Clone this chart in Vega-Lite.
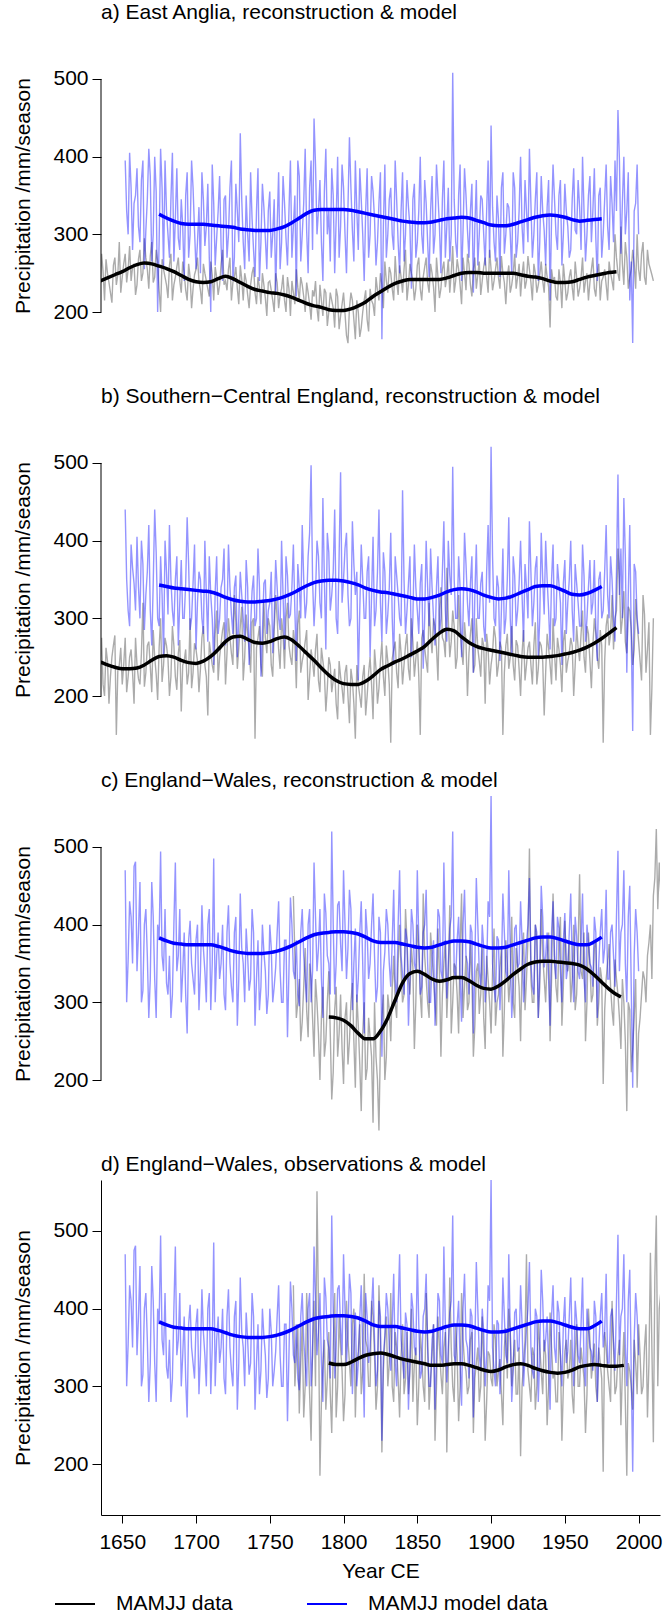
{
"$schema":"https://vega.github.io/schema/vega-lite/v6.json",
"padding":{"top":2,"left":12,"right":2,"bottom":0},
"spacing":23,
"config":{
"font":"Liberation Sans",
"view":{"stroke":null},
"axis":{"grid":false,"labelFontSize":21,"titleFontSize":21,"titleFontWeight":"normal","labelColor":"#000","titleColor":"#000","tickColor":"#000","domainColor":"#000","labelFont":"Liberation Sans","titleFont":"Liberation Sans","tickWidth":1,"domainWidth":1},
"axisY":{"domain":false,"tickSize":9,"labelPadding":4,"titlePadding":19,"labelAngle":0},
"axisX":{"tickSize":8,"labelPadding":8,"titlePadding":8,"labelFlush":false},
"title":{"fontSize":21,"fontWeight":"normal","anchor":"start","frame":"group","baseline":"alphabetic","offset":5,"color":"#000","font":"Liberation Sans"},
"legend":{"orient":"none","legendX":-47,"legendY":1555,"direction":"horizontal","symbolType":"stroke","symbolSize":1600,"symbolStrokeWidth":2,"labelFontSize":21,"labelFont":"Liberation Sans","labelColor":"#000","labelOffset":20,"labelLimit":400,"columnPadding":70}
},
"datasets":{
"ann":[
{"t":1630,"ag":255,"bg":250},{"t":1632,"ag":230,"bg":290},{"t":1634,"ag":270,"bg":215},{"t":1636,"ag":275,"bg":275},{"t":1638,"ag":215,"bg":200},{"t":1640,"ag":250,"bg":245},{"t":1642,"ag":225,"bg":225},{"t":1644,"ag":260,"bg":265},{"t":1646,"ag":235,"bg":150},{"t":1648,"ag":290,"bg":240},{"t":1650,"ag":245,"bg":215},
{"t":1652,"ag":275,"am":395,"bg":275,"bm":440,"em":470},
{"t":1654,"ag":255,"am":300,"bg":225,"bm":310,"em":355},
{"t":1656,"ag":240,"am":360,"bg":260,"bm":395,"em":410},
{"t":1658,"ag":262,"am":340,"bg":190,"bm":345,"em":475},
{"t":1660,"ag":235,"am":385,"bg":240,"bm":405,"em":340},
{"t":1662,"ag":280,"am":290,"bg":215,"bm":300,"em":455},
{"t":1664,"ag":250,"am":395,"bg":320,"bm":370,"em":315},
{"t":1666,"ag":270,"am":305,"bg":230,"bm":330,"em":420},
{"t":1668,"ag":230,"am":410,"bg":270,"bm":420,"em":280},
{"t":1670,"ag":290,"am":265,"bg":205,"bm":265,"em":455},
{"t":1672,"ag":245,"am":400,"bg":250,"bm":440,"em":330},
{"t":1674,"ag":265,"am":200,"bg":195,"bm":300,"em":400},
{"t":1676,"ag":200,"am":410,"bg":300,"bm":380,"em":494},
{"t":1678,"ag":255,"am":255,"bg":240,"bm":250,"em":340},
{"t":1680,"ag":235,"am":330,"bg":265,"bm":360,"em":325},
{"t":1682,"ag":260,"am":270,"bg":200,"bm":420,"em":360},
{"t":1684,"ag":215,"am":405,"bg":290,"bm":310,"em":310},
{"t":1686,"ag":245,"am":320,"bg":225,"bm":350,"em":480},
{"t":1688,"ag":270,"am":295,"bg":255,"bm":265,"em":360},
{"t":1690,"ag":225,"am":345,"bg":180,"bm":375,"em":300},
{"t":1692,"ag":250,"am":240,"bg":245,"bm":300,"em":390},
{"t":1694,"ag":215,"am":380,"bg":215,"bm":430,"em":260},
{"t":1696,"ag":245,"am":300,"bg":300,"bm":285,"em":405},
{"t":1698,"ag":230,"am":360,"bg":230,"bm":345,"em":330},
{"t":1700,"ag":255,"am":255,"bg":260,"bm":260,"em":380},
{"t":1702,"ag":240,"am":335,"bg":205,"bm":360,"em":290},
{"t":1704,"ag":210,"am":380,"bg":275,"bm":300,"em":425},
{"t":1706,"ag":250,"am":285,"bg":240,"bm":400,"em":340},
{"t":1708,"ag":230,"am":365,"bg":175,"bm":270,"em":400},
{"t":1710,"ag":265,"am":200,"bg":255,"bm":330,"em":290},
{"t":1712,"ag":215,"am":340,"bg":230,"bm":240,"em":485},
{"t":1714,"ag":245,"am":295,"bg":310,"bm":380,"em":360},
{"t":1716,"ag":235,"am":375,"bg":250,"bm":300,"em":330},
{"t":1718,"ag":280,"am":240,"bg":285,"bm":350,"em":400},
{"t":1720,"ag":240,"am":350,"bg":215,"bm":265,"em":290},
{"t":1722,"ag":255,"am":300,"bg":300,"bm":395,"em":425},
{"t":1724,"ag":215,"am":395,"bg":255,"bm":305,"em":320},
{"t":1726,"ag":245,"am":270,"bg":330,"bm":340,"em":390},
{"t":1728,"ag":230,"am":330,"bg":235,"bm":250,"em":270},
{"t":1730,"ag":260,"am":430,"bg":290,"bm":360,"em":440},
{"t":1732,"ag":215,"am":290,"bg":220,"bm":300,"em":350},
{"t":1734,"ag":240,"am":350,"bg":305,"bm":375,"em":395},
{"t":1736,"ag":205,"am":265,"bg":260,"bm":240,"em":315},
{"t":1738,"ag":250,"am":320,"bg":295,"bm":335,"em":420},
{"t":1740,"ag":225,"am":245,"bg":145,"bm":290,"em":270},
{"t":1742,"ag":245,"am":385,"bg":275,"bm":390,"em":380},
{"t":1744,"ag":210,"am":290,"bg":240,"bm":225,"em":320},
{"t":1746,"ag":235,"am":335,"bg":320,"bm":345,"em":365},
{"t":1748,"ag":195,"am":255,"bg":255,"bm":280,"em":285},
{"t":1750,"ag":240,"am":355,"bg":290,"bm":320,"em":400},
{"t":1752,"ag":215,"am":300,"bg":225,"bm":255,"em":300},
{"t":1754,"ag":250,"am":225,"bg":330,"bm":375,"em":345},
{"t":1756,"ag":205,"am":380,"bg":260,"bm":300,"em":430},
{"t":1758,"ag":230,"am":290,"bg":300,"bm":400,"em":300},
{"t":1760,"ag":215,"am":340,"bg":235,"bm":260,"em":380},
{"t":1762,"ag":245,"am":260,"bg":320,"bm":355,"em":255},
{"t":1764,"ag":195,"am":395,"bg":250,"bm":305,"em":435},
{"t":1766,"ag":225,"am":310,"bg":285,"bm":395,"cg":437,"em":340,"dg":430},
{"t":1768,"ag":255,"am":220,"bg":210,"bm":245,"cg":280,"em":380,"dg":340},
{"t":1770,"ag":215,"am":375,"bg":310,"bm":340,"cg":330,"em":295,"dg":265},
{"t":1772,"ag":235,"am":300,"bg":245,"bm":420,"cg":275,"em":420,"dg":380},
{"t":1774,"ag":200,"am":410,"bg":270,"bm":300,"cg":370,"em":330,"dg":300},
{"t":1776,"ag":225,"am":250,"bg":195,"bm":380,"cg":255,"em":400,"dg":360},
{"t":1778,"ag":190,"am":395,"bg":260,"bm":497,"cg":330,"em":300,"dg":230},
{"t":1780,"ag":220,"am":449,"bg":225,"bm":290,"cg":230,"em":480,"dg":410},
{"t":1782,"ag":205,"am":300,"bg":280,"bm":400,"cg":300,"em":340,"dg":551},
{"t":1784,"ag":235,"am":370,"bg":205,"bm":320,"cg":200,"em":420,"dg":185},
{"t":1786,"ag":195,"am":240,"bg":245,"bm":455,"cg":320,"em":280,"dg":330},
{"t":1788,"ag":225,"am":410,"bg":180,"bm":260,"cg":250,"em":415,"dg":270},
{"t":1790,"ag":200,"am":330,"bg":250,"bm":385,"cg":340,"em":350,"dg":370},
{"t":1792,"ag":215,"am":385,"bg":205,"bm":330,"cg":175,"em":520,"dg":240},
{"t":1794,"ag":180,"am":250,"bg":235,"bm":440,"cg":290,"em":310,"dg":420},
{"t":1796,"ag":220,"am":400,"bg":170,"bm":280,"cg":230,"em":425,"dg":300},
{"t":1798,"ag":195,"am":310,"bg":225,"bm":488,"cg":310,"em":375,"dg":350},
{"t":1800,"ag":225,"am":360,"bg":190,"bm":350,"cg":195,"em":470,"dg":255},
{"t":1802,"ag":170,"am":250,"bg":240,"bm":410,"cg":300,"em":330,"dg":410},
{"t":1804,"ag":205,"am":425,"bg":165,"bm":290,"cg":250,"em":445,"dg":330},
{"t":1806,"ag":215,"am":305,"bg":220,"bm":425,"cg":325,"em":290,"dg":380},
{"t":1808,"ag":165,"am":395,"bg":145,"bm":330,"cg":190,"em":395,"dg":260},
{"t":1810,"ag":200,"am":280,"bg":215,"bm":220,"cg":270,"em":330,"dg":345},
{"t":1812,"ag":180,"am":345,"bg":185,"bm":395,"cg":160,"em":430,"dg":290},
{"t":1814,"ag":215,"am":240,"bg":240,"bm":300,"cg":300,"em":260,"dg":445},
{"t":1816,"ag":190,"am":385,"bg":200,"bm":360,"cg":215,"em":390,"dg":350},
{"t":1818,"ag":230,"am":300,"bg":250,"bm":250,"cg":255,"em":350,"dg":300},
{"t":1820,"ag":210,"am":355,"bg":170,"bm":405,"cg":145,"em":440,"dg":390},
{"t":1822,"ag":245,"am":260,"bg":235,"bm":310,"cg":230,"em":300,"dg":270},
{"t":1824,"ag":215,"am":340,"bg":210,"bm":440,"cg":135,"em":410,"dg":430},
{"t":1826,"ag":235,"am":165,"bg":270,"bm":270,"cg":280,"em":230,"dg":215},
{"t":1828,"ag":265,"am":390,"bg":200,"bm":360,"cg":200,"em":365,"dg":360},
{"t":1830,"ag":225,"am":300,"bg":245,"bm":305,"cg":310,"em":400,"dg":300},
{"t":1832,"ag":250,"am":360,"bg":140,"bm":410,"cg":250,"em":320,"dg":420},
{"t":1834,"ag":215,"am":280,"bg":260,"bm":240,"cg":360,"em":445,"dg":280},
{"t":1836,"ag":240,"am":345,"bg":230,"bm":355,"cg":280,"em":300,"dg":350},
{"t":1838,"ag":260,"am":250,"bg":280,"bm":300,"cg":400,"em":470,"dg":260},
{"t":1840,"ag":225,"am":380,"bg":215,"bm":465,"cg":300,"em":335,"dg":380},
{"t":1842,"ag":280,"am":300,"bg":265,"bm":280,"cg":420,"em":395,"dg":310},
{"t":1844,"ag":235,"am":335,"bg":235,"bm":345,"cg":330,"em":270,"dg":290},
{"t":1846,"ag":250,"am":230,"bg":300,"bm":250,"cg":370,"em":420,"dg":400},
{"t":1848,"ag":215,"am":365,"bg":225,"bm":395,"cg":240,"em":350,"dg":330},
{"t":1850,"ag":260,"am":290,"bg":270,"bm":310,"cg":400,"em":470,"dg":250},
{"t":1852,"ag":230,"am":400,"bg":150,"bm":345,"cg":310,"em":310,"dg":370},
{"t":1854,"ag":245,"am":275,"bg":285,"bm":235,"cg":440,"em":390,"dg":300},
{"t":1856,"ag":270,"am":340,"bg":245,"bm":400,"cg":330,"em":445,"dg":420},
{"t":1858,"ag":225,"am":245,"bg":320,"bm":290,"cg":280,"em":300,"dg":270},
{"t":1860,"ag":250,"am":375,"bg":255,"bm":340,"cg":360,"em":360,"dg":340},
{"t":1862,"ag":200,"am":300,"bg":290,"bm":265,"cg":300,"em":270,"dg":230},
{"t":1864,"ag":245,"am":350,"bg":220,"bm":380,"cg":395,"em":420,"dg":390},
{"t":1866,"ag":230,"am":250,"bg":340,"bm":300,"cg":230,"em":340,"dg":315},
{"t":1868,"ag":265,"am":395,"bg":270,"bm":425,"cg":350,"em":480,"dg":350},
{"t":1870,"ag":245,"am":310,"bg":365,"bm":270,"cg":280,"em":305,"dg":215},
{"t":1872,"ag":225,"am":265,"bg":250,"bm":355,"cg":425,"em":395,"dg":440},
{"t":1874,"ag":285,"am":508,"bg":310,"bm":495,"cg":300,"em":520,"dg":300},
{"t":1876,"ag":240,"am":290,"bg":235,"bm":300,"cg":345,"em":330,"dg":380},
{"t":1878,"ag":255,"am":350,"bg":330,"bm":380,"cg":260,"em":410,"dg":255},
{"t":1880,"ag":210,"am":240,"bg":260,"bm":250,"cg":440,"em":275,"dg":420},
{"t":1882,"ag":250,"am":385,"bg":295,"bm":410,"cg":320,"em":445,"dg":330},
{"t":1884,"ag":275,"am":305,"bg":200,"bm":320,"cg":290,"em":350,"dg":290},
{"t":1886,"ag":235,"am":330,"bg":280,"bm":345,"cg":380,"em":400,"dg":360},
{"t":1888,"ag":255,"am":225,"bg":230,"bm":230,"cg":230,"em":260,"dg":240},
{"t":1890,"ag":230,"am":370,"bg":300,"bm":395,"cg":340,"em":460,"dg":330},
{"t":1892,"ag":265,"am":300,"bg":245,"bm":300,"cg":285,"em":340,"dg":280},
{"t":1894,"ag":240,"am":345,"bg":275,"bm":360,"cg":370,"em":400,"dg":390},
{"t":1896,"ag":270,"am":260,"bg":190,"bm":270,"cg":240,"em":300,"dg":230},
{"t":1898,"ag":225,"am":395,"bg":260,"bm":420,"cg":330,"em":430,"dg":345},
{"t":1900,"ag":255,"am":440,"bg":240,"bm":521,"cg":260,"em":566,"dg":310},
{"t":1902,"ag":240,"am":290,"bg":290,"bm":300,"cg":395,"em":320,"dg":380},
{"t":1904,"ag":270,"am":350,"bg":225,"bm":355,"cg":300,"em":385,"dg":300},
{"t":1906,"ag":230,"am":245,"bg":270,"bm":245,"cg":345,"em":290,"dg":335},
{"t":1908,"ag":250,"am":380,"bg":150,"bm":390,"cg":230,"em":440,"dg":250},
{"t":1910,"ag":210,"am":300,"bg":265,"bm":300,"cg":380,"em":340,"dg":375},
{"t":1912,"ag":260,"am":335,"bg":235,"bm":430,"cg":300,"em":470,"dg":400},
{"t":1914,"ag":235,"am":250,"bg":290,"bm":255,"cg":410,"em":280,"dg":300},
{"t":1916,"ag":275,"am":360,"bg":220,"bm":355,"cg":280,"em":395,"dg":360},
{"t":1918,"ag":245,"am":290,"bg":265,"bm":310,"cg":345,"em":345,"dg":290},
{"t":1920,"ag":220,"am":400,"bg":200,"bm":400,"cg":250,"em":430,"dg":210},
{"t":1922,"ag":265,"am":275,"bg":285,"bm":270,"cg":390,"em":300,"dg":330},
{"t":1924,"ag":240,"am":330,"bg":240,"bm":340,"cg":330,"em":375,"dg":470},
{"t":1926,"ag":255,"am":410,"bg":270,"bm":425,"cg":498,"em":460,"dg":300},
{"t":1928,"ag":215,"am":270,"bg":215,"bm":290,"cg":300,"em":320,"dg":350},
{"t":1930,"ag":250,"am":345,"bg":295,"bm":365,"cg":400,"em":400,"dg":270},
{"t":1932,"ag":235,"am":240,"bg":235,"bm":250,"cg":280,"em":280,"dg":385},
{"t":1934,"ag":265,"am":375,"bg":265,"bm":410,"cg":420,"em":450,"dg":320},
{"t":1936,"ag":225,"am":305,"bg":175,"bm":305,"cg":330,"em":345,"dg":360},
{"t":1938,"ag":245,"am":335,"bg":280,"bm":350,"cg":360,"em":390,"dg":250},
{"t":1940,"ag":180,"am":215,"bg":240,"bm":260,"cg":250,"em":270,"dg":395},
{"t":1942,"ag":240,"am":390,"bg":300,"bm":395,"cg":440,"em":430,"dg":310},
{"t":1944,"ag":220,"am":300,"bg":220,"bm":300,"cg":320,"em":330,"dg":280},
{"t":1946,"ag":255,"am":350,"bg":260,"bm":345,"cg":380,"em":395,"dg":370},
{"t":1948,"ag":205,"am":260,"bg":205,"bm":240,"cg":270,"em":300,"dg":230},
{"t":1950,"ag":240,"am":365,"bg":285,"bm":375,"cg":405,"em":415,"dg":345},
{"t":1952,"ag":225,"am":310,"bg":245,"bm":320,"cg":340,"em":345,"dg":310},
{"t":1954,"ag":255,"am":280,"bg":275,"bm":400,"cg":300,"em":440,"dg":360},
{"t":1956,"ag":215,"am":385,"bg":200,"bm":270,"cg":400,"em":300,"dg":265},
{"t":1958,"ag":245,"am":300,"bg":290,"bm":345,"cg":310,"em":385,"dg":380},
{"t":1960,"ag":230,"am":335,"bg":245,"bm":290,"cg":465,"em":330,"dg":300},
{"t":1962,"ag":270,"am":400,"bg":310,"bm":395,"cg":330,"em":440,"dg":330},
{"t":1964,"ag":240,"am":265,"bg":230,"bm":270,"cg":250,"em":300,"dg":240},
{"t":1966,"ag":215,"am":350,"bg":280,"bm":340,"cg":390,"em":375,"dg":400},
{"t":1968,"ag":255,"am":290,"bg":210,"bm":305,"cg":300,"em":345,"dg":310},
{"t":1970,"ag":230,"am":385,"bg":300,"bm":375,"cg":370,"em":410,"dg":355},
{"t":1972,"ag":250,"am":240,"bg":250,"bm":245,"cg":270,"em":280,"dg":280},
{"t":1974,"ag":215,"am":360,"bg":285,"bm":360,"cg":345,"em":390,"dg":330},
{"t":1976,"ag":245,"am":300,"bg":140,"bm":310,"cg":195,"em":350,"dg":190},
{"t":1978,"ag":235,"am":390,"bg":290,"bm":420,"cg":330,"em":445,"dg":350},
{"t":1980,"ag":265,"am":280,"bg":265,"bm":300,"cg":375,"em":330,"dg":300},
{"t":1982,"ag":240,"am":340,"bg":330,"bm":350,"cg":290,"em":400,"dg":410},
{"t":1984,"ag":300,"am":395,"bg":300,"bm":270,"cg":355,"em":320,"dg":290},
{"t":1986,"ag":250,"am":460,"bg":390,"bm":485,"cg":310,"em":495,"dg":340},
{"t":1988,"ag":310,"am":275,"bg":280,"bm":390,"cg":240,"em":390,"dg":250},
{"t":1990,"ag":235,"am":400,"bg":335,"bm":455,"cg":300,"em":470,"dg":370},
{"t":1992,"ag":270,"am":330,"bg":255,"bm":230,"cg":160,"em":300,"dg":185},
{"t":1994,"ag":245,"am":215,"bg":310,"bm":420,"cg":290,"em":450,"dg":320},
{"t":1996,"ag":280,"am":160,"bg":240,"bm":155,"cg":240,"em":190,"dg":270},
{"t":1998,"ag":230,"am":340,"bg":325,"bm":360,"cg":330,"em":420,"dg":330},
{"t":2000,"ag":255,"am":300,"bg":270,"bm":280,"cg":260,"em":340,"dg":380},
{"t":2002,"ag":275,"bg":220,"cg":310,"dg":290},
{"t":2004,"ag":245,"bg":305,"cg":330,"dg":350},
{"t":2006,"ag":280,"bg":260,"cg":360,"dg":260},
{"t":2008,"ag":255,"bg":150,"cg":400,"dg":472},
{"t":2010,"ag":240,"bg":300,"cg":437,"dg":228},
{"t":2012,"cg":523,"dg":520},
{"t":2014,"cg":480,"dg":400},
{"t":2016,"cg":400,"dg":330},
{"t":1631,"ag":240,"bg":228},{"t":1633,"ag":262,"bg":262},{"t":1635,"ag":228,"bg":240},{"t":1637,"ag":252,"bg":215},{"t":1639,"ag":268,"bg":262},{"t":1641,"ag":238,"bg":190},{"t":1643,"ag":212,"bg":250},{"t":1645,"ag":270,"bg":278},{"t":1647,"ag":248,"bg":232},{"t":1649,"ag":225,"bg":262},{"t":1651,"ag":262,"bg":240},
{"t":1653,"ag":238,"am":330,"bg":205,"bm":350,"em":300},
{"t":1655,"ag":285,"am":405,"bg":250,"bm":290,"em":430},
{"t":1657,"ag":258,"am":280,"bg":230,"bm":365,"em":350},
{"t":1659,"ag":222,"am":350,"bg":275,"bm":310,"em":481},
{"t":1661,"ag":268,"am":310,"bg":222,"bm":340,"em":390},
{"t":1663,"ag":240,"am":370,"bg":255,"bm":400,"em":300},
{"t":1665,"ag":295,"am":255,"bg":212,"bm":285,"em":400},
{"t":1667,"ag":255,"am":345,"bg":265,"bm":360,"em":360},
{"t":1669,"ag":272,"am":375,"bg":238,"bm":310,"em":330},
{"t":1671,"ag":238,"am":300,"bg":285,"bm":345,"em":410},
{"t":1673,"ag":280,"am":355,"bg":228,"bm":385,"em":280},
{"t":1675,"ag":228,"am":290,"bg":262,"bm":290,"em":380},
{"t":1677,"ag":268,"am":360,"bg":218,"bm":330,"em":360},
{"t":1679,"ag":245,"am":395,"bg":275,"bm":400,"em":420},
{"t":1681,"ag":218,"am":300,"bg":248,"bm":305,"em":310},
{"t":1683,"ag":275,"am":345,"bg":225,"bm":350,"em":280},
{"t":1685,"ag":235,"am":265,"bg":265,"bm":290,"em":400},
{"t":1687,"ag":258,"am":385,"bg":208,"bm":380,"em":340},
{"t":1689,"ag":240,"am":280,"bg":272,"bm":320,"em":420},
{"t":1691,"ag":265,"am":310,"bg":240,"bm":300,"em":340},
{"t":1693,"ag":228,"am":350,"bg":260,"bm":345,"em":310},
{"t":1695,"ag":262,"am":270,"bg":230,"bm":370,"em":380},
{"t":1697,"ag":205,"am":395,"bg":210,"bm":300,"em":350},
{"t":1699,"ag":248,"am":305,"bg":268,"bm":395,"em":310},
{"t":1701,"ag":270,"am":290,"bg":245,"bm":320,"em":400},
{"t":1703,"ag":228,"am":250,"bg":235,"bm":350,"em":340},
{"t":1705,"ag":262,"am":345,"bg":290,"bm":280,"em":370},
{"t":1707,"ag":240,"am":310,"bg":225,"bm":330,"em":300},
{"t":1709,"ag":220,"am":270,"bg":270,"bm":380,"em":420},
{"t":1711,"ag":248,"am":390,"bg":240,"bm":300,"em":350},
{"t":1713,"ag":258,"am":260,"bg":280,"bm":335,"em":300},
{"t":1715,"ag":222,"am":330,"bg":220,"bm":280,"em":390},
{"t":1717,"ag":262,"am":285,"bg":268,"bm":340,"em":350},
{"t":1719,"ag":235,"am":345,"bg":295,"bm":390,"em":310},
{"t":1721,"ag":228,"am":270,"bg":255,"bm":300,"em":390},
{"t":1723,"ag":270,"am":360,"bg":275,"bm":340,"em":350},
{"t":1725,"ag":238,"am":240,"bg":240,"bm":280,"em":300},
{"t":1727,"ag":258,"am":365,"bg":295,"bm":355,"em":410},
{"t":1729,"ag":210,"am":290,"bg":262,"bm":300,"em":330},
{"t":1731,"ag":242,"am":345,"bg":315,"bm":330,"em":370},
{"t":1733,"ag":250,"am":255,"bg":250,"bm":270,"em":300},
{"t":1735,"ag":222,"am":300,"bg":280,"bm":340,"em":360},
{"t":1737,"ag":235,"am":380,"bg":230,"bm":290,"em":330},
{"t":1739,"ag":258,"am":280,"bg":300,"bm":355,"em":390},
{"t":1741,"ag":210,"am":330,"bg":262,"bm":300,"em":330},
{"t":1743,"ag":232,"am":240,"bg":290,"bm":340,"em":290},
{"t":1745,"ag":250,"am":365,"bg":225,"bm":280,"em":400},
{"t":1747,"ag":218,"am":295,"bg":275,"bm":350,"em":340},
{"t":1749,"ag":238,"am":330,"bg":300,"bm":310,"em":310},
{"t":1751,"ag":228,"am":270,"bg":240,"bm":360,"em":370},
{"t":1753,"ag":200,"am":345,"bg":285,"bm":300,"em":320},
{"t":1755,"ag":238,"am":310,"bg":300,"bm":340,"em":390},
{"t":1757,"ag":222,"am":255,"bg":235,"bm":285,"em":340},
{"t":1759,"ag":248,"am":375,"bg":280,"bm":330,"em":300},
{"t":1761,"ag":200,"am":295,"bg":300,"bm":380,"em":380},
{"t":1763,"ag":230,"am":330,"bg":265,"bm":300,"em":340},
{"t":1765,"ag":240,"am":270,"bg":240,"bm":340,"em":400},
{"t":1767,"ag":210,"am":350,"bg":268,"bm":310,"cg":360,"em":330,"dg":300},
{"t":1769,"ag":232,"am":395,"bg":292,"bm":370,"cg":300,"em":310,"dg":380},
{"t":1771,"ag":245,"am":265,"bg":230,"bm":300,"cg":250,"em":390,"dg":330},
{"t":1773,"ag":220,"am":340,"bg":255,"bm":350,"cg":320,"em":360,"dg":260},
{"t":1775,"ag":238,"am":305,"bg":285,"bm":320,"cg":290,"em":300,"dg":420},
{"t":1777,"ag":210,"am":360,"bg":225,"bm":410,"cg":350,"em":420,"dg":290},
{"t":1779,"ag":228,"am":280,"bg":245,"bm":350,"cg":280,"em":340,"dg":350},
{"t":1781,"ag":240,"am":390,"bg":260,"bm":330,"cg":330,"em":410,"dg":300},
{"t":1783,"ag":188,"am":330,"bg":220,"bm":380,"cg":260,"em":370,"dg":400},
{"t":1785,"ag":215,"am":290,"bg":262,"bm":300,"cg":280,"em":330,"dg":280},
{"t":1787,"ag":230,"am":355,"bg":230,"bm":350,"cg":230,"em":440,"dg":360},
{"t":1789,"ag":182,"am":300,"bg":210,"bm":410,"cg":300,"em":360,"dg":310},
{"t":1791,"ag":225,"am":265,"bg":240,"bm":310,"cg":260,"em":310,"dg":290},
{"t":1793,"ag":205,"am":350,"bg":220,"bm":360,"cg":210,"em":400,"dg":350},
{"t":1795,"ag":230,"am":320,"bg":190,"bm":300,"cg":320,"em":350,"dg":260},
{"t":1797,"ag":178,"am":270,"bg":245,"bm":380,"cg":260,"em":430,"dg":390},
{"t":1799,"ag":210,"am":390,"bg":210,"bm":320,"cg":240,"em":340,"dg":320},
{"t":1801,"ag":198,"am":300,"bg":230,"bm":390,"cg":280,"em":400,"dg":290},
{"t":1803,"ag":160,"am":335,"bg":200,"bm":330,"cg":220,"em":370,"dg":360},
{"t":1805,"ag":225,"am":360,"bg":235,"bm":300,"cg":300,"em":420,"dg":300},
{"t":1807,"ag":190,"am":265,"bg":190,"bm":370,"cg":250,"em":350,"dg":400},
{"t":1809,"ag":215,"am":330,"bg":240,"bm":360,"cg":310,"em":300,"dg":330},
{"t":1811,"ag":168,"am":385,"bg":200,"bm":310,"cg":220,"em":390,"dg":380},
{"t":1813,"ag":200,"am":300,"bg":225,"bm":350,"cg":260,"em":350,"dg":320},
{"t":1815,"ag":228,"am":330,"bg":175,"bm":300,"cg":200,"em":420,"dg":360},
{"t":1817,"ag":175,"am":270,"bg":230,"bm":380,"cg":280,"em":330,"dg":300},
{"t":1819,"ag":215,"am":375,"bg":215,"bm":330,"cg":230,"em":400,"dg":410},
{"t":1821,"ag":195,"am":320,"bg":260,"bm":290,"cg":300,"em":360,"dg":340},
{"t":1823,"ag":228,"am":290,"bg":190,"bm":360,"cg":200,"em":320,"dg":300},
{"t":1825,"ag":250,"am":380,"bg":245,"bm":320,"cg":250,"em":390,"dg":360},
{"t":1827,"ag":205,"am":310,"bg":225,"bm":385,"cg":310,"em":340,"dg":320},
{"t":1829,"ag":240,"am":270,"bg":265,"bm":280,"cg":230,"em":420,"dg":390},
{"t":1831,"ag":258,"am":345,"bg":215,"bm":340,"cg":290,"em":350,"dg":330},
{"t":1833,"ag":230,"am":300,"bg":248,"bm":300,"cg":320,"em":380,"dg":300},
{"t":1835,"ag":272,"am":395,"bg":270,"bm":380,"cg":300,"em":330,"dg":370},
{"t":1837,"ag":222,"am":290,"bg":210,"bm":330,"cg":350,"em":400,"dg":310},
{"t":1839,"ag":245,"am":330,"bg":255,"bm":290,"cg":340,"em":360,"dg":340},
{"t":1841,"ag":255,"am":265,"bg":240,"bm":350,"cg":310,"em":310,"dg":290},
{"t":1843,"ag":215,"am":370,"bg":280,"bm":310,"cg":380,"em":380,"dg":370},
{"t":1845,"ag":262,"am":310,"bg":220,"bm":380,"cg":310,"em":330,"dg":320},
{"t":1847,"ag":240,"am":345,"bg":270,"bm":300,"cg":345,"em":400,"dg":280},
{"t":1849,"ag":230,"am":270,"bg":248,"bm":340,"cg":300,"em":340,"dg":350},
{"t":1851,"ag":270,"am":330,"bg":225,"bm":280,"cg":370,"em":380,"dg":300},
{"t":1853,"ag":215,"am":300,"bg":275,"bm":370,"cg":280,"em":320,"dg":340},
{"t":1855,"ag":258,"am":370,"bg":262,"bm":300,"cg":360,"em":400,"dg":280},
{"t":1857,"ag":238,"am":290,"bg":230,"bm":340,"cg":300,"em":350,"dg":360},
{"t":1859,"ag":262,"am":330,"bg":278,"bm":390,"cg":390,"em":300,"dg":310},
{"t":1861,"ag":232,"am":275,"bg":300,"bm":300,"cg":330,"em":380,"dg":380},
{"t":1863,"ag":270,"am":390,"bg":262,"bm":340,"cg":270,"em":340,"dg":300},
{"t":1865,"ag":218,"am":310,"bg":310,"bm":280,"cg":340,"em":410,"dg":350},
{"t":1867,"ag":255,"am":345,"bg":275,"bm":360,"cg":310,"em":330,"dg":290},
{"t":1869,"ag":232,"am":270,"bg":250,"bm":310,"cg":380,"em":380,"dg":370},
{"t":1871,"ag":268,"am":360,"bg":300,"bm":400,"cg":330,"em":350,"dg":320},
{"t":1873,"ag":250,"am":300,"bg":270,"bm":330,"cg":260,"em":410,"dg":350},
{"t":1875,"ag":225,"am":345,"bg":290,"bm":350,"cg":350,"em":340,"dg":280},
{"t":1877,"ag":268,"am":270,"bg":250,"bm":300,"cg":310,"em":380,"dg":340},
{"t":1879,"ag":235,"am":390,"bg":285,"bm":340,"cg":370,"em":330,"dg":300},
{"t":1881,"ag":270,"am":305,"bg":240,"bm":300,"cg":280,"em":400,"dg":360},
{"t":1883,"ag":228,"am":350,"bg":270,"bm":370,"cg":360,"em":360,"dg":320},
{"t":1885,"ag":262,"am":270,"bg":255,"bm":290,"cg":300,"em":310,"dg":300},
{"t":1887,"ag":220,"am":365,"bg":300,"bm":380,"cg":330,"em":390,"dg":370},
{"t":1889,"ag":270,"am":310,"bg":240,"bm":330,"cg":270,"em":350,"dg":310},
{"t":1891,"ag":248,"am":260,"bg":262,"bm":300,"cg":350,"em":400,"dg":350},
{"t":1893,"ag":222,"am":350,"bg":225,"bm":345,"cg":310,"em":320,"dg":300},
{"t":1895,"ag":258,"am":300,"bg":265,"bm":290,"cg":280,"em":370,"dg":330},
{"t":1897,"ag":245,"am":330,"bg":280,"bm":360,"cg":360,"em":340,"dg":280},
{"t":1899,"ag":280,"am":270,"bg":215,"bm":320,"cg":300,"em":410,"dg":340},
{"t":1901,"ag":228,"am":335,"bg":255,"bm":380,"cg":340,"em":350,"dg":300},
{"t":1903,"ag":255,"am":265,"bg":275,"bm":290,"cg":270,"em":300,"dg":360},
{"t":1905,"ag":245,"am":320,"bg":240,"bm":340,"cg":310,"em":380,"dg":320},
{"t":1907,"ag":272,"am":360,"bg":262,"bm":310,"cg":370,"em":340,"dg":290},
{"t":1909,"ag":238,"am":275,"bg":230,"bm":280,"cg":290,"em":390,"dg":350},
{"t":1911,"ag":245,"am":340,"bg":280,"bm":350,"cg":350,"em":330,"dg":310},
{"t":1913,"ag":225,"am":300,"bg":250,"bm":300,"cg":330,"em":370,"dg":370},
{"t":1915,"ag":250,"am":380,"bg":240,"bm":380,"cg":300,"em":320,"dg":330},
{"t":1917,"ag":230,"am":270,"bg":272,"bm":290,"cg":370,"em":400,"dg":290},
{"t":1919,"ag":262,"am":330,"bg":235,"bm":345,"cg":320,"em":350,"dg":350},
{"t":1921,"ag":248,"am":310,"bg":255,"bm":330,"cg":350,"em":380,"dg":300},
{"t":1923,"ag":230,"am":370,"bg":220,"bm":370,"cg":290,"em":340,"dg":360},
{"t":1925,"ag":272,"am":290,"bg":262,"bm":300,"cg":380,"em":400,"dg":320},
{"t":1927,"ag":238,"am":340,"bg":240,"bm":360,"cg":330,"em":350,"dg":280},
{"t":1929,"ag":262,"am":300,"bg":265,"bm":320,"cg":300,"em":310,"dg":340},
{"t":1931,"ag":225,"am":380,"bg":215,"bm":380,"cg":380,"em":390,"dg":300},
{"t":1933,"ag":248,"am":290,"bg":270,"bm":300,"cg":320,"em":340,"dg":350},
{"t":1935,"ag":240,"am":330,"bg":245,"bm":350,"cg":360,"em":410,"dg":290},
{"t":1937,"ag":262,"am":260,"bg":230,"bm":400,"cg":300,"em":360,"dg":340},
{"t":1939,"ag":232,"am":370,"bg":262,"bm":310,"cg":390,"em":330,"dg":300},
{"t":1941,"ag":255,"am":320,"bg":215,"bm":350,"cg":330,"em":390,"dg":350},
{"t":1943,"ag":245,"am":345,"bg":255,"bm":290,"cg":360,"em":350,"dg":320},
{"t":1945,"ag":215,"am":280,"bg":275,"bm":370,"cg":300,"em":410,"dg":280},
{"t":1947,"ag":238,"am":370,"bg":240,"bm":320,"cg":410,"em":340,"dg":340},
{"t":1949,"ag":262,"am":300,"bg":270,"bm":345,"cg":320,"em":380,"dg":300},
{"t":1951,"ag":215,"am":330,"bg":230,"bm":280,"cg":350,"em":330,"dg":360},
{"t":1953,"ag":245,"am":270,"bg":255,"bm":350,"cg":380,"em":390,"dg":320},
{"t":1955,"ag":232,"am":345,"bg":265,"bm":310,"cg":330,"em":350,"dg":290},
{"t":1957,"ag":265,"am":305,"bg":240,"bm":370,"cg":290,"em":410,"dg":340},
{"t":1959,"ag":220,"am":370,"bg":262,"bm":320,"cg":370,"em":340,"dg":300},
{"t":1961,"ag":245,"am":280,"bg":280,"bm":290,"cg":340,"em":380,"dg":350},
{"t":1963,"ag":225,"am":330,"bg":250,"bm":355,"cg":390,"em":330,"dg":310},
{"t":1965,"ag":250,"am":300,"bg":290,"bm":300,"cg":300,"em":400,"dg":290},
{"t":1967,"ag":238,"am":375,"bg":245,"bm":375,"cg":350,"em":350,"dg":360},
{"t":1969,"ag":270,"am":330,"bg":265,"bm":320,"cg":310,"em":320,"dg":330},
{"t":1971,"ag":220,"am":295,"bg":280,"bm":290,"cg":380,"em":390,"dg":300},
{"t":1973,"ag":262,"am":350,"bg":235,"bm":350,"cg":300,"em":350,"dg":350},
{"t":1975,"ag":240,"am":270,"bg":265,"bm":300,"cg":330,"em":420,"dg":310},
{"t":1977,"ag":255,"am":345,"bg":245,"bm":360,"cg":290,"em":370,"dg":370},
{"t":1979,"ag":215,"am":310,"bg":305,"bm":330,"cg":350,"em":330,"dg":320},
{"t":1981,"ag":250,"am":375,"bg":280,"bm":380,"cg":320,"em":390,"dg":280},
{"t":1983,"ag":228,"am":290,"bg":260,"bm":300,"cg":270,"em":360,"dg":350},
{"t":1985,"ag":270,"am":330,"bg":310,"bm":360,"cg":330,"em":410,"dg":300},
{"t":1987,"ag":240,"am":395,"bg":350,"bm":330,"cg":280,"em":340,"dg":360},
{"t":1989,"ag":262,"am":340,"bg":300,"bm":300,"cg":330,"em":400,"dg":320},
{"t":1991,"ag":290,"am":300,"bg":270,"bm":380,"cg":250,"em":350,"dg":280},
{"t":1993,"ag":230,"am":380,"bg":315,"bm":330,"cg":300,"em":410,"dg":330},
{"t":1995,"ag":255,"am":265,"bg":285,"bm":280,"cg":210,"em":320,"dg":300},
{"t":1997,"ag":262,"am":330,"bg":260,"bm":370,"cg":280,"em":360,"dg":360},
{"t":1999,"ag":300,"am":390,"bg":295,"bm":300,"cg":190,"em":390,"dg":290},
{"t":2001,"ag":240,"bg":245,"cg":280,"dg":340},
{"t":2003,"ag":290,"bg":330,"cg":340,"dg":300},
{"t":2005,"ag":235,"bg":230,"cg":300,"dg":380},
{"t":2007,"ag":262,"bg":295,"cg":377,"dg":330},
{"t":2009,"ag":248,"bg":210,"cg":330,"dg":350},
{"t":2011,"cg":460,"dg":440},
{"t":2013,"cg":420,"dg":300},
{"t":2015,"cg":440,"dg":420}
],
"sm":[
{"t":1630,"ab":236,"bb":248},{"t":1635,"ab":240,"bb":244},{"t":1640,"ab":244,"bb":240},{"t":1645,"ab":248,"bb":237},{"t":1650,"ab":252,"bb":235},{"t":1655,"ab":257,"bb":235},{"t":1660,"ab":261,"bb":236},{"t":1665,"ab":263,"bb":240},{"t":1670,"ab":262,"bb":246},
{"t":1675,"ab":259,"as":326,"bb":251,"bs":343,"es":383},
{"t":1680,"ab":256,"as":321,"bb":252,"bs":341,"es":379},
{"t":1685,"ab":252,"as":317,"bb":250,"bs":339,"es":376},
{"t":1690,"ab":247,"as":314,"bb":246,"bs":338,"es":375},
{"t":1695,"ab":242,"as":313,"bb":243,"bs":337,"es":374},
{"t":1700,"ab":239,"as":313,"bb":242,"bs":336,"es":374},
{"t":1705,"ab":238,"as":313,"bb":245,"bs":335,"es":374},
{"t":1710,"ab":239,"as":312,"bb":251,"bs":334,"es":374},
{"t":1715,"ab":243,"as":311,"bb":260,"bs":331,"es":372},
{"t":1720,"ab":246,"as":310,"bb":270,"bs":327,"es":369},
{"t":1725,"ab":243,"as":309,"bb":276,"bs":324,"es":366},
{"t":1730,"ab":238,"as":307,"bb":277,"bs":322,"es":364},
{"t":1735,"ab":233,"as":306,"bb":273,"bs":321,"es":363},
{"t":1740,"ab":229,"as":305,"bb":269,"bs":321,"es":363},
{"t":1745,"ab":227,"as":305,"bb":268,"bs":322,"es":363},
{"t":1750,"ab":225,"as":305,"bb":270,"bs":323,"es":364},
{"t":1755,"ab":224,"as":307,"bb":274,"bs":325,"es":366},
{"t":1760,"ab":222,"as":310,"bb":276,"bs":328,"es":369},
{"t":1765,"ab":219,"as":315,"bb":272,"bs":332,"es":373},
{"t":1770,"ab":215,"as":321,"bb":264,"bs":337,"es":378},
{"t":1775,"ab":211,"as":327,"bb":255,"bs":342,"es":383},
{"t":1780,"ab":208,"as":331,"bb":246,"bs":346,"es":387},
{"t":1785,"ab":206,"as":332,"bb":236,"bs":348,"es":389},
{"t":1790,"ab":203,"as":332,"bb":227,"bs":349,"cb":281,"es":390,"db":330},
{"t":1795,"ab":202,"as":332,"bb":220,"bs":349,"cb":280,"es":391,"db":328},
{"t":1800,"ab":202,"as":332,"bb":216,"bs":348,"cb":277,"es":391,"db":328},
{"t":1805,"ab":204,"as":331,"bb":215,"bs":346,"cb":270,"es":390,"db":331},
{"t":1810,"ab":208,"as":329,"bb":215,"bs":343,"cb":260,"es":388,"db":336},
{"t":1815,"ab":213,"as":327,"bb":219,"bs":339,"cb":253,"es":384,"db":340},
{"t":1820,"ab":220,"as":325,"bb":226,"bs":336,"cb":253,"es":379,"db":342},
{"t":1825,"ab":226,"as":323,"bb":234,"bs":334,"cb":263,"es":377,"db":343},
{"t":1830,"ab":232,"as":321,"bb":239,"bs":333,"cb":280,"es":377,"db":341},
{"t":1835,"ab":237,"as":319,"bb":244,"bs":331,"cb":303,"es":377,"db":338},
{"t":1840,"ab":240,"as":317,"bb":248,"bs":329,"cb":325,"es":375,"db":335},
{"t":1845,"ab":242,"as":316,"bb":253,"bs":327,"cb":337,"es":373,"db":333},
{"t":1850,"ab":242,"as":315,"bb":258,"bs":325,"cb":340,"es":371,"db":331},
{"t":1855,"ab":242,"as":315,"bb":264,"bs":325,"cb":336,"es":370,"db":329},
{"t":1860,"ab":242,"as":316,"bb":273,"bs":327,"cb":330,"es":371,"db":327},
{"t":1865,"ab":242,"as":318,"bb":281,"bs":330,"cb":327,"es":374,"db":327},
{"t":1870,"ab":244,"as":320,"bb":286,"bs":334,"cb":329,"es":377,"db":328},
{"t":1875,"ab":247,"as":321,"bb":284,"bs":337,"cb":332,"es":379,"db":329},
{"t":1880,"ab":250,"as":322,"bb":276,"bs":338,"cb":332,"es":379,"db":329},
{"t":1885,"ab":251,"as":321,"bb":269,"bs":337,"cb":328,"es":378,"db":327},
{"t":1890,"ab":251,"as":318,"bb":264,"bs":334,"cb":322,"es":375,"db":324},
{"t":1895,"ab":250,"as":315,"bb":261,"bs":330,"cb":318,"es":372,"db":321},
{"t":1900,"ab":250,"as":312,"bb":259,"bs":327,"cb":317,"es":370,"db":319},
{"t":1905,"ab":250,"as":311,"bb":257,"bs":325,"cb":321,"es":370,"db":321},
{"t":1910,"ab":250,"as":311,"bb":255,"bs":326,"cb":328,"es":371,"db":325},
{"t":1915,"ab":250,"as":313,"bb":253,"bs":329,"cb":336,"es":374,"db":328},
{"t":1920,"ab":248,"as":316,"bb":251,"bs":333,"cb":343,"es":377,"db":329},
{"t":1925,"ab":246,"as":319,"bb":250,"bs":337,"cb":349,"es":380,"db":327},
{"t":1930,"ab":245,"as":322,"bb":250,"bs":341,"cb":352,"es":383,"db":323},
{"t":1935,"ab":243,"as":324,"bb":250,"bs":342,"cb":353,"es":384,"db":320},
{"t":1940,"ab":240,"as":325,"bb":251,"bs":342,"cb":353,"es":384,"db":318},
{"t":1945,"ab":238,"as":324,"bb":252,"bs":339,"cb":352,"es":382,"db":317},
{"t":1950,"ab":238,"as":322,"bb":254,"bs":335,"cb":351,"es":379,"db":318},
{"t":1955,"ab":239,"as":319,"bb":256,"bs":331,"cb":350,"es":376,"db":321},
{"t":1960,"ab":242,"as":317,"bb":259,"bs":330,"cb":348,"es":374,"db":325},
{"t":1965,"ab":245,"as":318,"bb":263,"bs":332,"cb":343,"es":374,"db":327},
{"t":1970,"ab":247,"as":319,"bb":268,"bs":336,"cb":335,"es":378,"db":328},
{"t":1975,"ab":249,"as":320,"bb":274,"bs":341,"cb":326,"es":384,"db":327},
{"t":1980,"ab":251,"bb":281,"cb":317,"db":326},
{"t":1985,"ab":252,"bb":288,"cb":310,"db":326},
{"t":1988,"cb":307},
{"t":1990,"db":327}
]
},
"vconcat":[
{"width":559,"height":335,"title":"a) East Anglia, reconstruction & model",
"layer":[
{"data":{"name":"ann"},"transform":[{"filter":"isValid(datum.ag)"}],"mark":{"type":"line","stroke":"#000","strokeOpacity":0.33,"strokeWidth":1.4,"clip":true},
"encoding":{"x":{"field":"t","type":"quantitative","scale":{"domain":[1635.6,2014.5],"nice":false,"zero":false},"axis":null},"y":{"field":"ag","type":"quantitative","scale":{"domain":[134.4,565.6],"nice":false,"zero":false},"title":"Precipitation /mm/season","axis":{"values":[200,300,400,500]}}}},
{"data":{"name":"ann"},"transform":[{"filter":"isValid(datum.am)"}],"mark":{"type":"line","stroke":"#00f","strokeOpacity":0.42,"strokeWidth":1.4,"clip":true},
"encoding":{"x":{"field":"t","type":"quantitative","axis":null},"y":{"field":"am","type":"quantitative","title":"Precipitation /mm/season","axis":{"values":[200,300,400,500]}}}},
{"data":{"name":"sm"},"transform":[{"filter":"isValid(datum.ab)"}],"mark":{"type":"line","strokeWidth":3.5,"interpolate":"monotone","clip":true},
"encoding":{"x":{"field":"t","type":"quantitative","axis":null},"y":{"field":"ab","type":"quantitative","title":"Precipitation /mm/season","axis":{"values":[200,300,400,500]}},"color":{"datum":"MAMJJ data","scale":{"domain":["MAMJJ data","MAMJJ model data"],"range":["#000000","#0000ff"]},"legend":{"title":null}}}},
{"data":{"name":"sm"},"transform":[{"filter":"isValid(datum.as)"}],"mark":{"type":"line","strokeWidth":3.5,"interpolate":"monotone","clip":true},
"encoding":{"x":{"field":"t","type":"quantitative","axis":null},"y":{"field":"as","type":"quantitative","title":"Precipitation /mm/season","axis":{"values":[200,300,400,500]}},"color":{"datum":"MAMJJ model data","scale":{"domain":["MAMJJ data","MAMJJ model data"],"range":["#000000","#0000ff"]},"legend":{"title":null}}}},
{"data":{"values":[{}]},"mark":{"type":"rule","color":"#000","strokeWidth":1},
"encoding":{"x":{"datum":1635.6,"type":"quantitative","axis":null},"y":{"datum":200,"type":"quantitative","title":"Precipitation /mm/season","axis":{"values":[200,300,400,500]}},"y2":{"datum":500}}}
]},
{"width":559,"height":335,"title":"b) Southern\u2212Central England, reconstruction & model",
"layer":[
{"data":{"name":"ann"},"transform":[{"filter":"isValid(datum.bg)"}],"mark":{"type":"line","stroke":"#000","strokeOpacity":0.33,"strokeWidth":1.4,"clip":true},
"encoding":{"x":{"field":"t","type":"quantitative","scale":{"domain":[1635.6,2014.5],"nice":false,"zero":false},"axis":null},"y":{"field":"bg","type":"quantitative","scale":{"domain":[134.4,565.6],"nice":false,"zero":false},"title":"Precipitation /mm/season","axis":{"values":[200,300,400,500]}}}},
{"data":{"name":"ann"},"transform":[{"filter":"isValid(datum.bm)"}],"mark":{"type":"line","stroke":"#00f","strokeOpacity":0.42,"strokeWidth":1.4,"clip":true},
"encoding":{"x":{"field":"t","type":"quantitative","axis":null},"y":{"field":"bm","type":"quantitative","title":"Precipitation /mm/season","axis":{"values":[200,300,400,500]}}}},
{"data":{"name":"sm"},"transform":[{"filter":"isValid(datum.bb)"}],"mark":{"type":"line","strokeWidth":3.5,"interpolate":"monotone","clip":true},
"encoding":{"x":{"field":"t","type":"quantitative","axis":null},"y":{"field":"bb","type":"quantitative","title":"Precipitation /mm/season","axis":{"values":[200,300,400,500]}},"color":{"datum":"MAMJJ data","scale":{"domain":["MAMJJ data","MAMJJ model data"],"range":["#000000","#0000ff"]},"legend":{"title":null}}}},
{"data":{"name":"sm"},"transform":[{"filter":"isValid(datum.bs)"}],"mark":{"type":"line","strokeWidth":3.5,"interpolate":"monotone","clip":true},
"encoding":{"x":{"field":"t","type":"quantitative","axis":null},"y":{"field":"bs","type":"quantitative","title":"Precipitation /mm/season","axis":{"values":[200,300,400,500]}},"color":{"datum":"MAMJJ model data","scale":{"domain":["MAMJJ data","MAMJJ model data"],"range":["#000000","#0000ff"]},"legend":{"title":null}}}},
{"data":{"values":[{}]},"mark":{"type":"rule","color":"#000","strokeWidth":1},
"encoding":{"x":{"datum":1635.6,"type":"quantitative","axis":null},"y":{"datum":200,"type":"quantitative","title":"Precipitation /mm/season","axis":{"values":[200,300,400,500]}},"y2":{"datum":500}}}
]},
{"width":559,"height":335,"title":"c) England\u2212Wales, reconstruction & model",
"layer":[
{"data":{"name":"ann"},"transform":[{"filter":"isValid(datum.cg)"}],"mark":{"type":"line","stroke":"#000","strokeOpacity":0.33,"strokeWidth":1.4,"clip":true},
"encoding":{"x":{"field":"t","type":"quantitative","scale":{"domain":[1635.6,2014.5],"nice":false,"zero":false},"axis":null},"y":{"field":"cg","type":"quantitative","scale":{"domain":[134.4,565.6],"nice":false,"zero":false},"title":"Precipitation /mm/season","axis":{"values":[200,300,400,500]}}}},
{"data":{"name":"ann"},"transform":[{"filter":"isValid(datum.em)"}],"mark":{"type":"line","stroke":"#00f","strokeOpacity":0.42,"strokeWidth":1.4,"clip":true},
"encoding":{"x":{"field":"t","type":"quantitative","axis":null},"y":{"field":"em","type":"quantitative","title":"Precipitation /mm/season","axis":{"values":[200,300,400,500]}}}},
{"data":{"name":"sm"},"transform":[{"filter":"isValid(datum.cb)"}],"mark":{"type":"line","strokeWidth":3.5,"interpolate":"monotone","clip":true},
"encoding":{"x":{"field":"t","type":"quantitative","axis":null},"y":{"field":"cb","type":"quantitative","title":"Precipitation /mm/season","axis":{"values":[200,300,400,500]}},"color":{"datum":"MAMJJ data","scale":{"domain":["MAMJJ data","MAMJJ model data"],"range":["#000000","#0000ff"]},"legend":{"title":null}}}},
{"data":{"name":"sm"},"transform":[{"filter":"isValid(datum.es)"}],"mark":{"type":"line","strokeWidth":3.5,"interpolate":"monotone","clip":true},
"encoding":{"x":{"field":"t","type":"quantitative","axis":null},"y":{"field":"es","type":"quantitative","title":"Precipitation /mm/season","axis":{"values":[200,300,400,500]}},"color":{"datum":"MAMJJ model data","scale":{"domain":["MAMJJ data","MAMJJ model data"],"range":["#000000","#0000ff"]},"legend":{"title":null}}}},
{"data":{"values":[{}]},"mark":{"type":"rule","color":"#000","strokeWidth":1},
"encoding":{"x":{"datum":1635.6,"type":"quantitative","axis":null},"y":{"datum":200,"type":"quantitative","title":"Precipitation /mm/season","axis":{"values":[200,300,400,500]}},"y2":{"datum":500}}}
]},
{"width":559,"height":335,"title":"d) England\u2212Wales, observations & model",
"layer":[
{"data":{"name":"ann"},"transform":[{"filter":"isValid(datum.dg)"}],"mark":{"type":"line","stroke":"#000","strokeOpacity":0.33,"strokeWidth":1.4,"clip":true},
"encoding":{"x":{"field":"t","type":"quantitative","scale":{"domain":[1635.6,2014.5],"nice":false,"zero":false},"title":"Year CE","axis":{"values":[1650,1700,1750,1800,1850,1900,1950,2000],"format":"d"}},"y":{"field":"dg","type":"quantitative","scale":{"domain":[134.4,565.6],"nice":false,"zero":false},"title":"Precipitation /mm/season","axis":{"values":[200,300,400,500],"domain":true}}}},
{"data":{"name":"ann"},"transform":[{"filter":"isValid(datum.em)"}],"mark":{"type":"line","stroke":"#00f","strokeOpacity":0.42,"strokeWidth":1.4,"clip":true},
"encoding":{"x":{"field":"t","type":"quantitative","title":"Year CE","axis":{"values":[1650,1700,1750,1800,1850,1900,1950,2000],"format":"d"}},"y":{"field":"em","type":"quantitative","title":"Precipitation /mm/season","axis":{"values":[200,300,400,500],"domain":true}}}},
{"data":{"name":"sm"},"transform":[{"filter":"isValid(datum.db)"}],"mark":{"type":"line","strokeWidth":3.5,"interpolate":"monotone","clip":true},
"encoding":{"x":{"field":"t","type":"quantitative","title":"Year CE","axis":{"values":[1650,1700,1750,1800,1850,1900,1950,2000],"format":"d"}},"y":{"field":"db","type":"quantitative","title":"Precipitation /mm/season","axis":{"values":[200,300,400,500],"domain":true}},"color":{"datum":"MAMJJ data","scale":{"domain":["MAMJJ data","MAMJJ model data"],"range":["#000000","#0000ff"]},"legend":{"title":null}}}},
{"data":{"name":"sm"},"transform":[{"filter":"isValid(datum.es)"}],"mark":{"type":"line","strokeWidth":3.5,"interpolate":"monotone","clip":true},
"encoding":{"x":{"field":"t","type":"quantitative","title":"Year CE","axis":{"values":[1650,1700,1750,1800,1850,1900,1950,2000],"format":"d"}},"y":{"field":"es","type":"quantitative","title":"Precipitation /mm/season","axis":{"values":[200,300,400,500],"domain":true}},"color":{"datum":"MAMJJ model data","scale":{"domain":["MAMJJ data","MAMJJ model data"],"range":["#000000","#0000ff"]},"legend":{"title":null}}}}
]}
]
}
